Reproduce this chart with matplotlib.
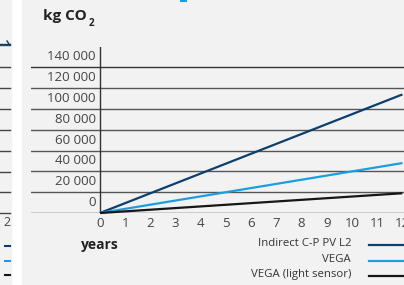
import numpy as np
import matplotlib
matplotlib.use('Agg')
import matplotlib.pyplot as plt
from matplotlib.patches import Rectangle
from matplotlib.lines import Line2D

# data
years = [0, 12]
indirect = [0, 114000]
vega = [0, 48000]
vega_light = [0, 19000]
yticks = [0, 20000, 40000, 60000, 80000, 100000, 120000, 140000]
ylabels = ['0', '20 000', '40 000', '60 000', '80 000', '100 000', '120 000', '140 000']
xticks = list(range(0, 13))
names = ['Indirect C-P PV L2', 'VEGA', 'VEGA (light sensor)']
colors = ['#0d3f6e', '#1a9ee0', '#161616']

plt.rcParams['font.family'] = ['Open Sans', 'DejaVu Sans']
W, H = 404, 285
fig = plt.figure(figsize=(W / 100, H / 100), dpi=100, facecolor='white')

def fx(px):
    return px / W

def fy(py):
    return 1 - py / H

# grey panels (main one + the edge of the neighbouring chart)
fig.patches.append(Rectangle((fx(22), 0), 1, 1, transform=fig.transFigure, color='#f2f2f2', zorder=-5))
fig.patches.append(Rectangle((0, 0), fx(10.5), 1, transform=fig.transFigure, color='#f2f2f2', zorder=-5))
for py in [45, 67, 88, 109, 130, 151, 172, 192, 213]:
    fig.add_artist(Line2D([0, fx(10)], [fy(py), fy(py)], color='#444444', lw=1.0))
fig.add_artist(Line2D([0, fx(10)], [fy(44), fy(44)], color='#0d3f6e', lw=1.0))
fig.add_artist(Line2D([fx(7), fx(9)], [fy(41), fy(44)], color='#0d3f6e', lw=1.0))
fig.add_artist(Line2D([fx(5), fx(10)], [fy(246), fy(246)], color='#0d3f6e', lw=1.5))
fig.add_artist(Line2D([fx(5), fx(10)], [fy(261), fy(261)], color='#1a9ee0', lw=1.5))
fig.add_artist(Line2D([fx(5), fx(10)], [fy(275), fy(275)], color='#161616', lw=1.5))
fig.text(fx(10.5), fy(223), '2', fontsize=9, color='#444444', ha='right', va='center')
fig.add_artist(Line2D([fx(181), fx(186)], [fy(1), fy(1)], color='#1a9ee0', lw=1.5))

# main axes: x 0 at px 100, 25.2 px/year; y 0 at px 213, 20.8 px per 20 000
x0, xs = 100, 25.2
y0, ys = 213, 20.8 / 20000
ax = fig.add_axes([fx(31), fy(y0), fx(W - 31), (160000 * ys) / H])
ax.set_xlim((31 - x0) / xs, (W - x0) / xs)
ax.set_ylim(0, 160000)
ax.set_facecolor('none')
for s in ax.spines.values():
    s.set_visible(False)
ax.set_xticks([])
ax.set_yticks([])

for v in yticks:
    ax.axhline(v, color='#333333' if v in (0, 140000) else '#555555', lw=1.0, zorder=1)
    ax.text(-0.17, v + 10000, ylabels[yticks.index(v)], ha='right', va='center',
            fontsize=9.5, color='#444444')
ax.plot([0, 0], [0, 160000], color='#333333', lw=1.0, zorder=1)
for t in xticks:
    ax.text(t, -4000, str(t), ha='center', va='top', fontsize=9.5, color='#444444', clip_on=False)

series = [indirect, vega, vega_light]
for vals, c in zip(series, colors):
    ax.plot(years, vals, color=c, lw=1.6, zorder=3, clip_on=False, solid_capstyle='butt')

fig.text(fx(43), fy(16), 'kg CO', fontsize=11, fontweight='bold', color='#222222',
         ha='left', va='center')
fig.text(fx(89), fy(23), '2', fontsize=7, fontweight='bold', color='#222222',
         ha='left', va='center')
fig.text(fx(100), fy(245), 'years', fontsize=10, fontweight='bold', color='#222222',
         ha='center', va='center')

for i, (n, c) in enumerate(zip(names, colors)):
    py = [245, 261, 276][i]
    fig.text(fx(351), fy(py - 1), n, fontsize=8.2, color='#333333', ha='right', va='center')
    fig.add_artist(Line2D([fx(369), 1], [fy(py), fy(py)], color=c, lw=1.6))

fig.savefig('out.png', dpi=100, facecolor='white')
